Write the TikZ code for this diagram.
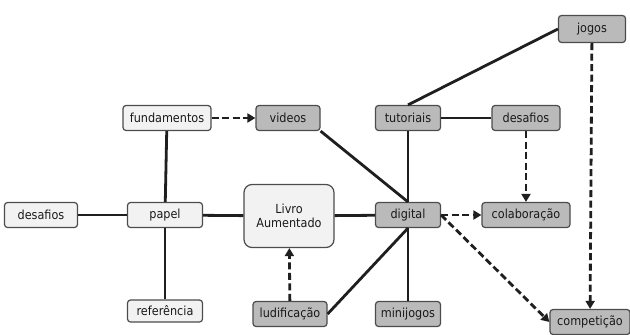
\documentclass[tikz,border=0pt]{standalone}
\usepackage{fontspec}
\setmainfont{DejaVu Sans Condensed}
\usetikzlibrary{arrows.meta}

\begin{document}
\begin{tikzpicture}[x=1pt,y=-1pt,
  every node/.style={font=\fontsize{12.5}{13.5}\selectfont,text=black!90},
  light/.style={draw=black!70,line width=1.2pt,rounded corners=3pt,fill=black!5,minimum height=25pt,inner sep=2pt},
  dark/.style={light,fill=black!27},
  link/.style={line width=2.8pt,black!88},
  dlink/.style={link,dash pattern=on 7pt off 3.5pt,-{Triangle[length=8pt,width=9pt]}}]
  \useasboundingbox (0,0) rectangle (630,335);
  % papel side
  \node[light,minimum width=73pt] (desL) at (41,215) {desafios};
  \node[light,minimum width=75pt] (papel) at (165,215) {papel};
  \node[light,minimum width=88pt] (fund) at (167,118) {fundamentos};
  \node[light,minimum width=75pt,minimum height=22pt] (ref) at (165,311) {referência};
  \node[light,minimum width=90pt,minimum height=63pt,rounded corners=8pt,align=center] (livro) at (289,216) {Livro\\Aumentado};
  % digital side
  \node[dark,minimum width=64pt] (videos) at (288,118) {videos};
  \node[dark,minimum width=74pt] (ludi) at (290,314) {ludificação};
  \node[dark,minimum width=65pt] (tut) at (408,118) {tutoriais};
  \node[dark,minimum width=68pt] (desR) at (526,118) {desafios};
  \node[dark,minimum width=65pt] (digital) at (408,215) {digital};
  \node[dark,minimum width=88pt] (colab) at (526,215) {colaboração};
  \node[dark,minimum width=65pt] (mini) at (408,314) {minijogos};
  \node[dark,minimum width=67pt,minimum height=27pt] (jogos) at (592,29) {jogos};
  \node[dark,minimum width=80pt] (comp) at (590,322) {competição};
  % connectors
  \draw[link] (desL) -- (papel);
  \draw[link] (papel) -- (fund);
  \draw[link] (papel) -- (ref);
  \draw[link] (papel) -- (livro);
  \draw[link] (livro) -- (digital);
  \draw[link] (videos.south east) -- (digital.north);
  \draw[link] (tut) -- (digital);
  \draw[link] (tut) -- (desR);
  \draw[link] (tut.north) -- (jogos.west);
  \draw[link] (digital.south) -- (ludi.east);
  \draw[link] (digital) -- (mini);
  \draw[dlink] (fund) -- (videos);
  \draw[dlink] (ludi) -- (livro);
  \draw[dlink] (desR) -- (colab);
  \draw[dlink] (digital) -- (colab);
  \draw[dlink] (digital.east) -- (comp.west);
  \draw[dlink] (jogos) -- (comp);
\end{tikzpicture}
\end{document}
